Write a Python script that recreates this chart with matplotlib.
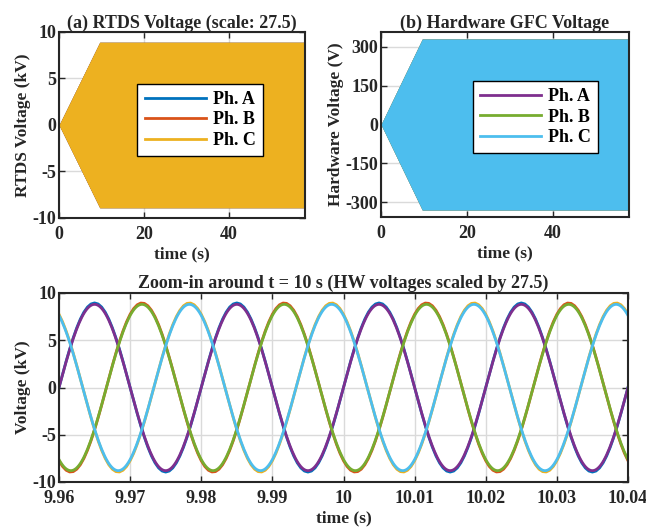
import numpy as np
import matplotlib
matplotlib.use("Agg")
import matplotlib.pyplot as plt
from matplotlib.lines import Line2D

plt.rcParams['font.family'] = ['Liberation Serif', 'DejaVu Serif']
plt.rcParams['font.weight'] = 'bold'
plt.rcParams['axes.labelweight'] = 'bold'
plt.rcParams['axes.titleweight'] = 'bold'
plt.rcParams['axes.unicode_minus'] = False

# colours (MATLAB default order)
rtds_colors = ['#0072BD', '#D95319', '#EDB120']
hw_colors = ['#7E2F8E', '#77AC30', '#4DBEEE']
phase_names = ['Ph. A', 'Ph. B', 'Ph. C']

# envelope of the long recordings
env_t = [0, 9.6, 58]
rtds_env_kv = [0, 8.9, 8.9]
hw_env_v = [0, 330, 330]

# zoom-in waveform parameters
f_grid = 50.0
rtds_peak_kv = 8.95
hw_peak_v = 320.0
hw_scale = 27.5
phase_shift_deg = [0, -120, 120]
t_zoom = (9.96, 10.04)
rtds_dt = 0.0005
hw_dt = 0.0002

ax_col = '#262626'
grid_col = '#dadada'
FS_TICK = 13
FS_LAB = 12.5
FS_TITLE = 13


def style(ax):
    ax.tick_params(direction='in', top=True, right=True, length=4, width=1,
                   color=ax_col, labelsize=FS_TICK, labelcolor=ax_col)
    ax.tick_params(axis='x', pad=6)
    ax.tick_params(axis='y', pad=2)
    for s in ax.spines.values():
        s.set_linewidth(1.5)
        s.set_color(ax_col)
    ax.grid(True, color=grid_col, linewidth=1)
    ax.set_axisbelow(True)
    for lab in ax.get_xticklabels() + ax.get_yticklabels():
        lab.set_fontweight('bold')


def add_legend(ax, colors, anchor):
    handles = [Line2D([], [], color=c, lw=2) for c in colors]
    leg = ax.legend(handles, phase_names, loc='center', bbox_to_anchor=anchor,
                    fontsize=FS_TICK, frameon=True, fancybox=False,
                    edgecolor='black', framealpha=1, handlelength=3.4,
                    borderpad=0.4, labelspacing=0.2, handletextpad=0.4)
    leg.get_frame().set_linewidth(1)


fig = plt.figure(figsize=(6.46, 5.27), dpi=100)
ax1 = fig.add_axes([59 / 646, 1 - 218 / 527, 246 / 646, 186 / 527])
ax2 = fig.add_axes([381 / 646, 1 - 217 / 527, 248 / 646, 185 / 527])
ax3 = fig.add_axes([59 / 646, 1 - 482 / 527, 569 / 646, 189 / 527])

# (a) RTDS
env = np.array(rtds_env_kv)
for c in rtds_colors:
    ax1.fill_between(env_t, -env, env, color=c, linewidth=0)
ax1.set_xlim(0, 58)
ax1.set_ylim(-10, 10)
ax1.set_xticks([0, 20, 40])
ax1.set_yticks([-10, -5, 0, 5, 10])
ax1.set_title('(a) RTDS Voltage (scale: 27.5)', fontsize=FS_TITLE, pad=3, color=ax_col)
ax1.set_xlabel('time (s)', fontsize=FS_LAB, color=ax_col, labelpad=2)
ax1.set_ylabel('RTDS Voltage (kV)', fontsize=FS_LAB, color=ax_col, labelpad=1)
style(ax1)
add_legend(ax1, rtds_colors, (0.575, 0.527))

# (b) hardware
env = np.array(hw_env_v)
for c in hw_colors:
    ax2.fill_between(env_t, -env, env, color=c, linewidth=0)
ax2.set_xlim(0, 57.7)
ax2.set_ylim(-357, 357)
ax2.set_xticks([0, 20, 40])
ax2.set_yticks([-300, -150, 0, 150, 300])
ax2.set_title('(b) Hardware GFC Voltage', fontsize=FS_TITLE, pad=3, color=ax_col)
ax2.set_xlabel('time (s)', fontsize=FS_LAB, color=ax_col, labelpad=2)
ax2.set_ylabel('Hardware Voltage (V)', fontsize=FS_LAB, color=ax_col, labelpad=1)
style(ax2)
add_legend(ax2, hw_colors, (0.623, 0.54))

# zoom-in
t_r = np.arange(t_zoom[0], t_zoom[1] + rtds_dt / 2, rtds_dt)
t_h = np.arange(t_zoom[0], t_zoom[1] + hw_dt / 2, hw_dt)
w = 2 * np.pi * f_grid
for c, ph in zip(rtds_colors, phase_shift_deg):
    ax3.plot(t_r, rtds_peak_kv * np.sin(w * t_r + np.deg2rad(ph)), color=c, lw=2)
for c, ph in zip(hw_colors, phase_shift_deg):
    ax3.plot(t_h, hw_peak_v * hw_scale / 1000 * np.sin(w * t_h + np.deg2rad(ph)),
             color=c, lw=2)
ax3.set_xlim(*t_zoom)
ax3.set_ylim(-10, 10)
ax3.set_xticks(np.round(np.arange(9.96, 10.0401, 0.01), 2))
ax3.set_xticklabels(['9.96', '9.97', '9.98', '9.99', '10', '10.01', '10.02', '10.03', '10.04'])
ax3.set_yticks([-10, -5, 0, 5, 10])
ax3.set_title('Zoom-in around t = 10 s (HW voltages scaled by 27.5)', fontsize=FS_TITLE,
              pad=4, color=ax_col)
ax3.set_xlabel('time (s)', fontsize=FS_LAB, color=ax_col, labelpad=2)
ax3.set_ylabel('Voltage (kV)', fontsize=FS_LAB, color=ax_col, labelpad=1)
style(ax3)

fig.savefig('out.png', dpi=100)
